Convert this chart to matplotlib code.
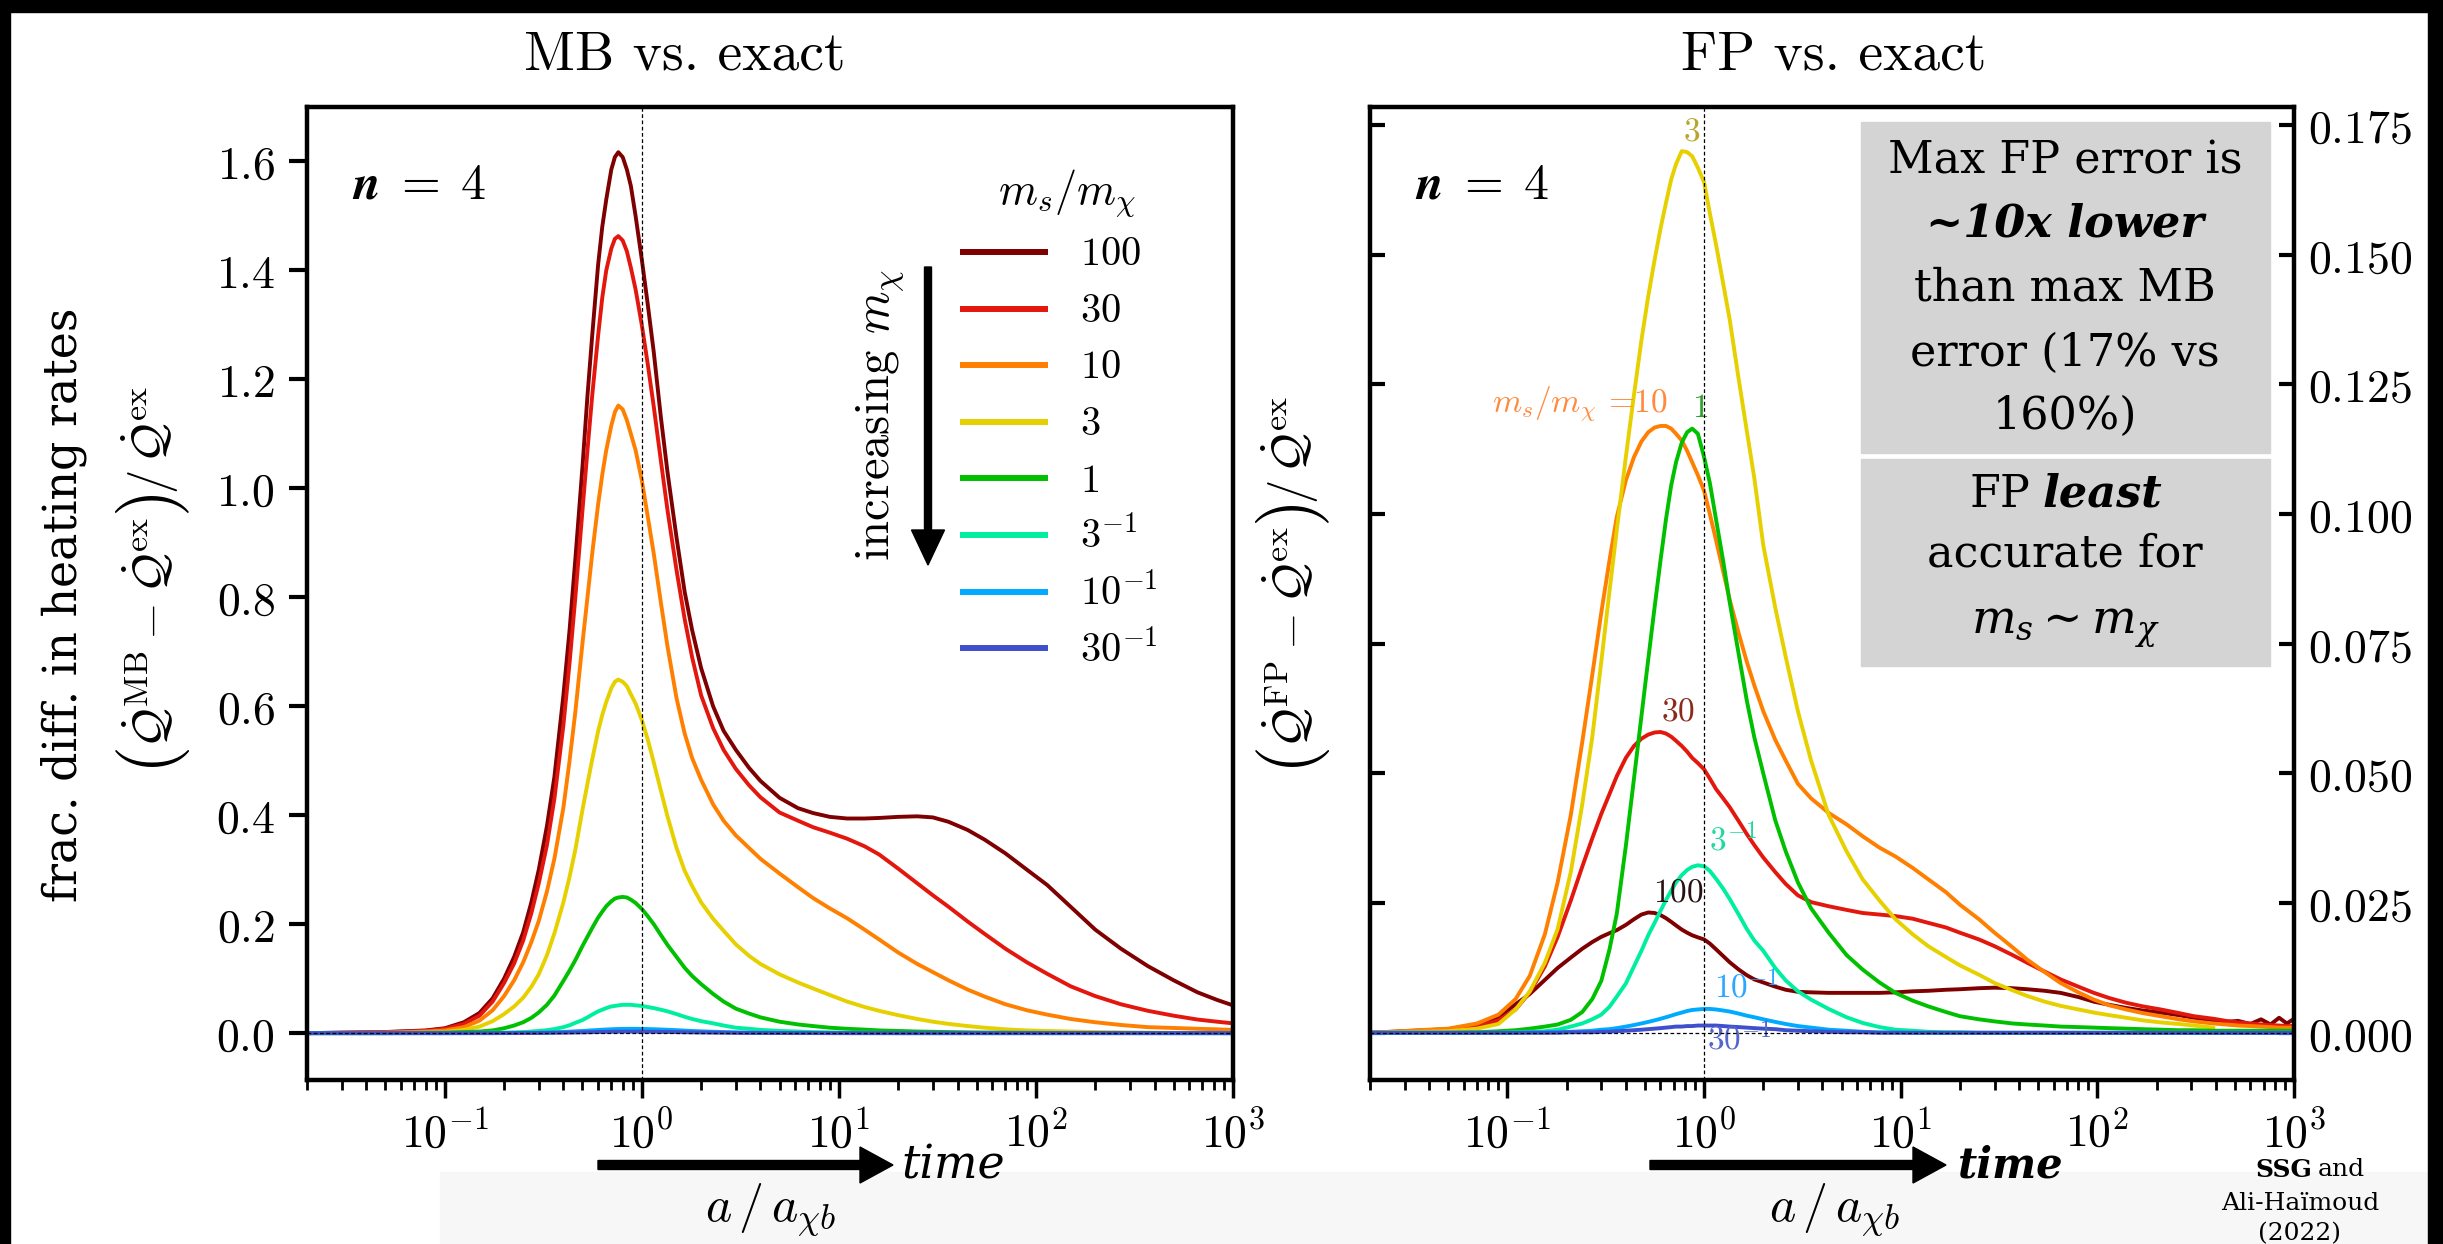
import numpy as np
import matplotlib
matplotlib.use('Agg')
import matplotlib.pyplot as plt
from matplotlib.patches import Rectangle, FancyArrow
from matplotlib.ticker import FixedLocator, FixedFormatter, LogLocator, NullFormatter
from matplotlib.mathtext import MathTextParser

plt.rcParams['mathtext.fontset'] = 'cm'
plt.rcParams['font.family'] = ['DejaVu Serif']
plt.rcParams['axes.formatter.use_mathtext'] = True

# ---------------- data ----------------
ratio_labels = ['100', '30', '10', '3', '1', r'$3^{-1}$', r'$10^{-1}$', r'$30^{-1}$']
colors = ['#7f0000', '#e3170d', '#ff7f00', '#e6d000', '#00c000', '#00eea0', '#00aaff', '#4050cc']

x_mb = [0.02, 0.05, 0.08, 0.1, 0.125, 0.15, 0.175, 0.2, 0.225, 0.25,
        0.275, 0.3, 0.33, 0.36, 0.4, 0.43, 0.46, 0.5, 0.53, 0.56,
        0.6, 0.63, 0.66, 0.7, 0.73, 0.76, 0.8, 0.84, 0.88, 0.93,
        1.0, 1.07, 1.15, 1.25, 1.35, 1.5, 1.65, 1.8, 2.0, 2.3,
        2.6, 3.0, 3.5, 4.0, 5.0, 6.2, 7.4, 9, 11, 13.5,
        16, 20, 25, 30, 36, 45, 55, 70, 90, 114,
        150, 200, 270, 370, 500, 660, 830, 1000]
mb_100 = [0.0, 0.002, 0.005, 0.009, 0.02, 0.037, 0.064, 0.10, 0.14, 0.185,
          0.24, 0.30, 0.38, 0.47, 0.62, 0.74, 0.87, 1.04, 1.17, 1.28,
          1.41, 1.48, 1.53, 1.585, 1.608, 1.617, 1.608, 1.585, 1.555, 1.50,
          1.42, 1.34, 1.25, 1.13, 1.03, 0.91, 0.81, 0.74, 0.67, 0.60,
          0.555, 0.52, 0.487, 0.463, 0.432, 0.413, 0.404, 0.397, 0.394, 0.394,
          0.395, 0.397, 0.398, 0.396, 0.388, 0.373, 0.355, 0.330, 0.300, 0.272,
          0.232, 0.19, 0.155, 0.123, 0.097, 0.075, 0.061, 0.051]
mb_30 = [0.0, 0.002, 0.004, 0.008, 0.017, 0.032, 0.058, 0.092, 0.128, 0.17,
         0.22, 0.275, 0.345, 0.43, 0.565, 0.68, 0.80, 0.96, 1.07, 1.17,
         1.28, 1.35, 1.40, 1.44, 1.458, 1.463, 1.455, 1.435, 1.405, 1.365,
         1.30, 1.23, 1.15, 1.05, 0.96, 0.85, 0.76, 0.69, 0.62, 0.56,
         0.52, 0.485, 0.455, 0.433, 0.405, 0.39, 0.378, 0.368, 0.357, 0.343,
         0.328, 0.302, 0.275, 0.253, 0.232, 0.205, 0.182, 0.155, 0.13, 0.109,
         0.086, 0.068, 0.053, 0.041, 0.032, 0.025, 0.021, 0.018]
mb_10 = [0.0, 0.001, 0.003, 0.005, 0.011, 0.023, 0.042, 0.068, 0.097, 0.13,
         0.167, 0.206, 0.26, 0.32, 0.414, 0.50, 0.59, 0.716, 0.80, 0.88,
         0.97, 1.025, 1.07, 1.115, 1.14, 1.152, 1.145, 1.125, 1.10, 1.07,
         1.015, 0.95, 0.88, 0.79, 0.71, 0.615, 0.55, 0.505, 0.465, 0.42,
         0.39, 0.363, 0.34, 0.32, 0.293, 0.268, 0.248, 0.229, 0.211, 0.19,
         0.172, 0.148, 0.127, 0.112, 0.097, 0.08, 0.067, 0.053, 0.042, 0.034,
         0.026, 0.02, 0.015, 0.011, 0.0095, 0.008, 0.007, 0.006]
mb_3 = [0.0, 0.0, 0.001, 0.002, 0.006, 0.012, 0.022, 0.035, 0.049, 0.065,
        0.085, 0.108, 0.143, 0.183, 0.24, 0.287, 0.337, 0.41, 0.458, 0.502,
        0.554, 0.584, 0.608, 0.633, 0.645, 0.649, 0.645, 0.637, 0.622, 0.605,
        0.575, 0.54, 0.497, 0.445, 0.398, 0.34, 0.298, 0.27, 0.24, 0.21,
        0.188, 0.163, 0.142, 0.127, 0.108, 0.093, 0.082, 0.07, 0.058, 0.048,
        0.041, 0.033, 0.026, 0.021, 0.017, 0.013, 0.010, 0.007, 0.005, 0.004,
        0.003, 0.002, 0.0015, 0.001, 0.0007, 0.0005, 0.0003, 0.0002]
mb_1 = [0.0, 0.0, 0.0005, 0.001, 0.002, 0.003, 0.005, 0.009, 0.014, 0.02,
        0.028, 0.038, 0.052, 0.069, 0.096, 0.115, 0.134, 0.16, 0.177, 0.193,
        0.212, 0.223, 0.233, 0.242, 0.247, 0.249, 0.25, 0.249, 0.245, 0.239,
        0.228, 0.215, 0.20, 0.18, 0.162, 0.14, 0.12, 0.105, 0.09, 0.072,
        0.058, 0.045, 0.036, 0.029, 0.021, 0.016, 0.013, 0.01, 0.008, 0.0065,
        0.005, 0.004, 0.003, 0.0025, 0.002, 0.0015, 0.0012, 0.001, 0.0007, 0.0005,
        0.0004, 0.0003, 0.0002, 0.0002, 0.0001, 0.0001, 0.0001, 0.0]
mb_1_3 = [0.0, 0.0, 0.0, 0.0, 0.0003, 0.0005, 0.0008, 0.001, 0.0015, 0.002,
          0.003, 0.004, 0.0055, 0.0075, 0.011, 0.0145, 0.019, 0.024, 0.029, 0.034,
          0.04, 0.043, 0.046, 0.049, 0.05, 0.051, 0.052, 0.052, 0.052, 0.051,
          0.05, 0.048, 0.046, 0.043, 0.04, 0.035, 0.03, 0.026, 0.022, 0.018,
          0.014, 0.01, 0.008, 0.006, 0.004, 0.003, 0.002, 0.0015, 0.001, 0.0007,
          0.0005] + [0.0] * 17
mb_1_10 = [0.0, 0.0, 0.0, 0.0, 0.0, 0.0001, 0.0001, 0.0002, 0.0003, 0.0005,
           0.0007, 0.001, 0.0013, 0.0017, 0.0022, 0.0028, 0.0034, 0.004, 0.0046, 0.0052,
           0.0058, 0.0063, 0.0067, 0.0071, 0.0074, 0.0076, 0.0078, 0.0079, 0.008, 0.0079,
           0.0078, 0.0075, 0.0072, 0.0067, 0.0062, 0.0055, 0.0047, 0.004, 0.0033, 0.0026,
           0.002, 0.0015, 0.0011, 0.0009, 0.0006, 0.0004, 0.0003, 0.0002, 0.0001] + [0.0] * 19
mb_1_30 = [0.0, 0.0, 0.0, 0.0, 0.0, 0.0, 0.0, 0.0001, 0.0001, 0.0002,
           0.0002, 0.0003, 0.0005, 0.0006, 0.0008, 0.001, 0.0012, 0.0014, 0.0016, 0.0018,
           0.002, 0.0022, 0.0023, 0.0025, 0.0026, 0.0027, 0.0027, 0.0028, 0.0028, 0.0028,
           0.0027, 0.0026, 0.0025, 0.0023, 0.0022, 0.0019, 0.0016, 0.0014, 0.0012, 0.0009,
           0.0007, 0.0005, 0.0004, 0.0003, 0.0002, 0.0001, 0.0001] + [0.0] * 21

x_fp = [0.02, 0.05, 0.07, 0.09, 0.11, 0.13, 0.155, 0.18, 0.21, 0.24,
        0.27, 0.3, 0.33, 0.36, 0.4, 0.44, 0.48, 0.52, 0.56, 0.6,
        0.64, 0.68, 0.72, 0.77, 0.82, 0.87, 0.93, 1.0, 1.07, 1.15,
        1.25, 1.35, 1.5, 1.65, 1.8, 2.0, 2.3, 2.6, 3.0, 3.5,
        4.3, 5.3, 6.4, 7.8, 9.4, 11.5, 13.8, 17, 20, 25,
        30, 37, 44, 54, 65, 80, 96, 115, 140, 170,
        210, 260, 310, 390, 450, 520, 600, 680, 760, 840, 920, 1000]
nan = float('nan')
fp_100 = [0.0, 0.0007, 0.0016, 0.0031, 0.0055, 0.0075, 0.0102, 0.0125, 0.0145, 0.0162,
          0.0175, 0.0185, 0.0192, 0.0198, 0.0208, 0.0219, 0.0228, 0.0232, 0.0231, 0.0227,
          0.0221, 0.0214, 0.0207, 0.0199, 0.0193, 0.0188, 0.0184, 0.018, 0.0172, 0.0161,
          0.0148, 0.0136, 0.0122, 0.0111, 0.0103, 0.0097, 0.0089, 0.0083, 0.0079, 0.0078,
          0.0077, 0.0077, 0.0077, 0.0077, 0.0078, 0.008, 0.0081, 0.0083, 0.0084, 0.0086,
          0.0087, 0.0086, 0.0084, 0.0081, 0.0077, 0.0069, 0.006, 0.0054, 0.0048, 0.0043,
          0.0039, 0.0034, 0.0029, 0.0024, 0.0021, 0.0023, 0.0017, 0.0026, 0.0016, 0.0029,
          0.0018, 0.0027]
fp_30 = [0.0, 0.0005, 0.0012, 0.0024, 0.0045, 0.0078, 0.0128, 0.0185, 0.0255, 0.032,
         0.0375, 0.0422, 0.046, 0.0495, 0.053, 0.0553, 0.0567, 0.0575, 0.0579, 0.058,
         0.0577, 0.0571, 0.0563, 0.0553, 0.0542, 0.053, 0.052, 0.0508, 0.049, 0.047,
         0.0452, 0.0435, 0.0408, 0.0383, 0.0362, 0.0338, 0.031, 0.0287, 0.0265, 0.0252,
         0.0244, 0.0237, 0.0231, 0.0228, 0.0225, 0.022, 0.0212, 0.0203, 0.0193, 0.018,
         0.0167, 0.015, 0.0135, 0.0118, 0.0103, 0.0089, 0.0077, 0.0067, 0.0058, 0.0051,
         0.0045, 0.0038, 0.0032, 0.0027, 0.0023, 0.002, 0.0018, 0.0016, 0.0015, 0.0014,
         0.0013, 0.0013]
fp_10 = [0.0, 0.0008, 0.0018, 0.0035, 0.0065, 0.011, 0.019, 0.029, 0.042, 0.056,
         0.069, 0.081, 0.091, 0.0995, 0.1065, 0.111, 0.114, 0.1158, 0.1167, 0.117,
         0.117, 0.1165, 0.1155, 0.1142, 0.1122, 0.110, 0.1075, 0.1045, 0.100, 0.095,
         0.089, 0.0835, 0.077, 0.0715, 0.067, 0.062, 0.0565, 0.0525, 0.048, 0.0452,
         0.0424, 0.0402, 0.0379, 0.0357, 0.034, 0.0318, 0.0296, 0.0271, 0.0247, 0.0219,
         0.0193, 0.0165, 0.0141, 0.0117, 0.0096, 0.0078, 0.0064, 0.0053, 0.0045, 0.0038,
         0.0032, 0.0026, 0.0022, 0.0018, 0.0016, 0.0014, 0.0013, 0.0012, 0.0011, 0.001,
         0.001, 0.001]
fp_3 = [0.0, 0.0003, 0.0008, 0.0017, 0.0045, 0.008, 0.0135, 0.02, 0.031, 0.044,
        0.057, 0.0715, 0.085, 0.097, 0.111, 0.123, 0.1335, 0.142, 0.149, 0.155,
        0.16, 0.1645, 0.1675, 0.170, 0.1698, 0.169, 0.1668, 0.164, 0.158, 0.152,
        0.1445, 0.1375, 0.126, 0.116, 0.107, 0.094, 0.082, 0.0725, 0.062, 0.0525,
        0.042, 0.035, 0.0296, 0.0255, 0.0219, 0.019, 0.0167, 0.0146, 0.013, 0.0112,
        0.0096, 0.0082, 0.0071, 0.006, 0.0052, 0.0045, 0.0039, 0.0034, 0.0029, 0.0024,
        0.002, 0.0017, 0.0014, 0.001, nan, nan, nan, nan, nan, nan,
        nan, nan]
fp_1 = [0.0, 0.0, 0.0001, 0.0003, 0.0005, 0.0008, 0.0012, 0.0016, 0.0025, 0.004,
        0.0065, 0.010, 0.016, 0.023, 0.036, 0.049, 0.061, 0.072, 0.082, 0.091,
        0.099, 0.1055, 0.110, 0.1138, 0.1158, 0.1165, 0.1155, 0.111, 0.106, 0.099,
        0.091, 0.083, 0.073, 0.064, 0.057, 0.050, 0.041, 0.035, 0.029, 0.024,
        0.0193, 0.015, 0.0122, 0.0097, 0.0077, 0.0062, 0.0051, 0.004, 0.0032, 0.0026,
        0.0022, 0.0018, 0.0016, 0.0014, 0.0012, 0.0011, 0.001, 0.0009, 0.0008, 0.0007,
        0.0006, 0.0005, 0.0005, 0.0004, 0.0004, 0.0004, 0.0004, 0.0004, 0.0004, 0.0004,
        0.0004, 0.0004]
fp_1_3 = [0.0, 0.0, 0.0, 0.0, 0.0001, 0.0002, 0.0003, 0.0006, 0.0012, 0.0018,
          0.0026, 0.0035, 0.005, 0.007, 0.0095, 0.0128, 0.0158, 0.0188, 0.0212, 0.0235,
          0.0256, 0.0274, 0.029, 0.0304, 0.0314, 0.032, 0.0323, 0.0321, 0.0312, 0.0297,
          0.0278, 0.0258, 0.0228, 0.020, 0.0178, 0.0158, 0.0125, 0.0101, 0.008, 0.0064,
          0.0046, 0.003, 0.0019, 0.0011, 0.0006, 0.0004, 0.0002, 0.0001, 0.0001] + [0.0] * 23
fp_1_10 = [0.0, 0.0, 0.0, 0.0, 0.0, 0.0001, 0.0001, 0.0002, 0.0002, 0.0003,
           0.0004, 0.0006, 0.0007, 0.0009, 0.0012, 0.0015, 0.0018, 0.0021, 0.0024, 0.0027,
           0.003, 0.0033, 0.0036, 0.0039, 0.0042, 0.0044, 0.0045, 0.0046, 0.0046, 0.0045,
           0.0043, 0.0041, 0.0037, 0.0033, 0.003, 0.0026, 0.0021, 0.0017, 0.0013, 0.001,
           0.0006, 0.0004, 0.0002, 0.0001, 0.0001] + [0.0] * 27
fp_1_30 = [0.0, 0.0, 0.0, 0.0, 0.0, 0.0, 0.0, 0.0, 0.0001, 0.0001,
           0.0001, 0.0002, 0.0002, 0.0003, 0.0004, 0.0005, 0.0006, 0.0007, 0.0008, 0.0009,
           0.001, 0.0011, 0.0012, 0.0012, 0.0013, 0.0013, 0.0014, 0.0014, 0.0014, 0.0014,
           0.0013, 0.0012, 0.0011, 0.001, 0.0009, 0.0008, 0.0007, 0.0005, 0.0004, 0.0003,
           0.0002, 0.0001, 0.0001] + [0.0] * 29

mb_series = [mb_100, mb_30, mb_10, mb_3, mb_1, mb_1_3, mb_1_10, mb_1_30]
fp_series = [fp_100, fp_30, fp_10, fp_3, fp_1, fp_1_3, fp_1_10, fp_1_30]

x_ticks = [0.1, 1, 10, 100, 1000]
x_ticklabels = [r'$10^{-1}$', r'$10^{0}$', r'$10^{1}$', r'$10^{2}$', r'$10^{3}$']
mb_yticks = [0.0, 0.2, 0.4, 0.6, 0.8, 1.0, 1.2, 1.4, 1.6]
mb_yticklabels = [r'$0.0$', r'$0.2$', r'$0.4$', r'$0.6$', r'$0.8$', r'$1.0$', r'$1.2$', r'$1.4$', r'$1.6$']
fp_yticks = [0.0, 0.025, 0.05, 0.075, 0.1, 0.125, 0.15, 0.175]
fp_yticklabels = [r'$0.000$', r'$0.025$', r'$0.050$', r'$0.075$', r'$0.100$', r'$0.125$',
                  r'$0.150$', r'$0.175$']

# FP curve annotations: (text, x, y, color)
fp_annotations = [
    (r'$3$', 0.866, 0.1737, '#b8a52a'),
    (r'$1$', 0.954, 0.1205, '#2ca02c'),
    (r'$30$', 0.738, 0.0620, '#8b2a1a'),
    (r'$3^{-1}$', 1.40, 0.0372, '#1fd9a0'),
    (r'$100$', 0.738, 0.0271, '#2b1010'),
    (r'$10^{-1}$', 1.65, 0.0088, '#2aa8ff'),
    (r'$30^{-1}$', 1.52, -0.0012, '#5566cc'),
]

# ---------------- figure ----------------
W, H = 2443, 1244
fig = plt.figure(figsize=(W / 100, H / 100), dpi=100)
fig.patch.set_facecolor('white')


def fx(px):
    return px / W


def fy(py):
    return 1 - py / H


def mathtext_ok(s):
    try:
        MathTextParser('path').parse(s)
        return True
    except Exception:
        return False


# faint grey slide background at the bottom
fig.add_artist(Rectangle((fx(440), 0), 1 - fx(440), 72 / H, transform=fig.transFigure,
                         color='#f7f7f7', zorder=-5))

ax1 = fig.add_axes([fx(307), fy(1080), (1233 - 307) / W, (1080 - 107) / H])
ax2 = fig.add_axes([fx(1370), fy(1080), (2294 - 1370) / W, (1080 - 107) / H])

for ax, xs, series in [(ax1, x_mb, mb_series), (ax2, x_fp, fp_series)]:
    for ys, c in zip(series, colors):
        ax.plot(xs, ys, color=c, lw=2.8, solid_capstyle='round', solid_joinstyle='round')
    ax.set_xscale('log')
    ax.set_xlim(0.02, 1000)
    ax.axvline(1.0, color='k', ls='--', lw=0.9, dashes=(3, 2), zorder=5)
    ax.axhline(0.0, color='k', ls='--', lw=0.9, dashes=(3, 2), zorder=5)
    ax.xaxis.set_major_locator(FixedLocator(x_ticks))
    ax.xaxis.set_major_formatter(FixedFormatter(x_ticklabels))
    ax.xaxis.set_minor_locator(LogLocator(base=10, subs=np.arange(2, 10), numticks=100))
    ax.xaxis.set_minor_formatter(NullFormatter())
    ax.tick_params(axis='x', which='major', direction='out', length=13, width=2.5, pad=10,
                   labelsize=33)
    ax.tick_params(axis='x', which='minor', direction='out', length=7, width=2)
    for sp in ax.spines.values():
        sp.set_linewidth(3.2)

ax1.set_ylim(-0.086, 1.70)
ax1.yaxis.set_major_locator(FixedLocator(mb_yticks))
ax1.yaxis.set_major_formatter(FixedFormatter(mb_yticklabels))
ax1.tick_params(axis='y', direction='out', length=13, width=3, pad=10, labelsize=33)

ax2.set_ylim(-0.0091, 0.1785)
ax2.yaxis.set_major_locator(FixedLocator(fp_yticks))
ax2.yaxis.set_major_formatter(FixedFormatter(fp_yticklabels))
ax2.tick_params(axis='y', direction='in', length=11, width=3, pad=10, labelsize=33,
                left=True, right=True, labelleft=False, labelright=True)

# n = 4 labels
nlab = r'$\boldsymbol{n}\;\boldsymbol{=}\;\boldsymbol{4}$'
if not mathtext_ok(nlab):
    nlab = r'$n\;=\;4$'
for ax in (ax1, ax2):
    ax.text(0.049, 0.92, nlab, transform=ax.transAxes, fontsize=36, ha='left', va='center')

# manual legend in MB panel
leg_x0, leg_x1, leg_tx = 0.7052, 0.8002, 0.8348
row0, drow = 0.851, 0.0582
ax1.text(0.8207, 0.9116, r'$m_s/m_\chi$', transform=ax1.transAxes, fontsize=32,
         ha='center', va='center')
for i, (lab, c) in enumerate(zip(ratio_labels, colors)):
    yy = row0 - i * drow
    ax1.plot([leg_x0, leg_x1], [yy, yy], color=c, lw=4.3, transform=ax1.transAxes,
             solid_capstyle='butt')
    txt = lab if lab.startswith('$') else '$' + lab + '$'
    ax1.text(leg_tx, yy - 0.0135, txt, transform=ax1.transAxes, fontsize=29,
             ha='left', va='baseline')

ax1.text(0.6188, 0.6835, r'increasing $m_\chi$', transform=ax1.transAxes, rotation=90,
         fontsize=35, ha='center', va='center', family='cmr10')
fig.add_artist(FancyArrow(fx(928), fy(267), 0, fy(565) - fy(267), width=7 / W,
                          head_width=33 / W, head_length=35 / H, length_includes_head=True,
                          transform=fig.transFigure, color='k', zorder=6))

# FP curve labels
ax2.text(0.655, 0.1214, r'$m_s/m_\chi$ =10', color='#ff8a3d', fontsize=24, ha='right',
         va='center', family='cmr10')
for t, xx, yy, c in fp_annotations:
    ax2.text(xx, yy, t, color=c, fontsize=24, ha='center', va='center')

# titles
fig.text(fx(685), fy(70), 'MB vs. exact', family='cmr10', fontsize=40, ha='center',
         va='baseline')
fig.text(fx(1834), fy(70), 'FP vs. exact', family='cmr10', fontsize=40, ha='center',
         va='baseline')


# y labels: rotated pieces stacked bottom-to-top, with large parentheses
def stacked_vertical_label(xpx, ypx_center, pieces):
    renderer = fig.canvas.get_renderer()
    items = []
    for s, fs, dx in pieces:
        t = fig.text(fx(xpx + dx), 0.5, s, rotation=90, fontsize=fs, ha='center', va='center')
        h = t.get_window_extent(renderer).height
        items.append((t, h))
    total = sum(h for _, h in items)
    y = (H - ypx_center) - total / 2.0
    for t, h in items:
        t.set_y((y + h / 2.0) / H)
        y += h


for tag, xpx, ypx in [('MB', 150, 580), ('FP', 1290, 585)]:
    stacked_vertical_label(xpx, ypx, [
        (r'$($', 52, 3),
        (r'$\dot{\mathcal{Q}}^{\mathrm{' + tag + r'}}-\dot{\mathcal{Q}}^{\mathrm{ex}}$', 35, 0),
        (r'$)$', 52, 3),
        (r'$/\,\dot{\mathcal{Q}}^{\mathrm{ex}}$', 35, 0),
    ])

fig.text(fx(64), fy(605), 'frac. diff. in heating rates', rotation=90, fontsize=33,
         ha='center', va='center')

# x labels
fig.text(fx(770), fy(1210), r'$a\,/\,a_{\chi b}$', fontsize=36, ha='center', va='center')
fig.text(fx(1834), fy(1210), r'$a\,/\,a_{\chi b}$', fontsize=36, ha='center', va='center')

# time arrows
for x0, x1, tx, weight, fs in [(598, 893, 901, 'normal', 33), (1650, 1946, 1958, 'bold', 30)]:
    fig.add_artist(FancyArrow(fx(x0), fy(1165), fx(x1) - fx(x0), 0, width=9 / H,
                              head_width=36 / H, head_length=33 / W, length_includes_head=True,
                              transform=fig.transFigure, color='k'))
    fig.text(fx(tx), fy(1166), 'time', fontsize=fs, style='italic', weight=weight,
             ha='left', va='center')

# grey text boxes
fig.add_artist(Rectangle((fx(1861), fy(453)), (2270 - 1861) / W, (453 - 122) / H,
                         transform=fig.transFigure, color='#d4d4d4', zorder=3))
fig.add_artist(Rectangle((fx(1861), fy(666)), (2270 - 1861) / W, (666 - 459) / H,
                         transform=fig.transFigure, color='#d4d4d4', zorder=3))
cx = fx(2065)
box_lines = [('Max FP error is', 161, 'normal', 'normal'),
             ('~10x lower', 224, 'italic', 'bold'),
             ('than max MB', 288, 'normal', 'normal'),
             ('error (17% vs', 353, 'normal', 'normal'),
             ('160%)', 416, 'normal', 'normal')]
for t, py, st, wt in box_lines:
    fig.text(cx, fy(py), t, fontsize=32, style=st, weight=wt, ha='center', va='center',
             zorder=4)
fig.text(fx(2030), fy(494), 'FP', fontsize=32, ha='right', va='center', zorder=4)
fig.text(fx(2042), fy(494), 'least', fontsize=32, style='italic', weight='bold', ha='left',
         va='center', zorder=4)
fig.text(cx, fy(554), 'accurate for', fontsize=32, ha='center', va='center', zorder=4)
fig.text(cx, fy(626), r'$m_s \sim m_\chi$', fontsize=34, ha='center', va='center', zorder=4,
         math_fontfamily='dejavuserif')

# citation
fig.text(fx(2312), fy(1170), 'SSG', fontsize=18, weight='bold', ha='right', va='center')
fig.text(fx(2318), fy(1170), 'and', fontsize=18, ha='left', va='center')
fig.text(fx(2300), fy(1203), 'Ali-Haïmoud', fontsize=18, ha='center', va='center')
fig.text(fx(2300), fy(1234), '(2022)', fontsize=18, ha='center', va='center')

# black slide borders
for (x0, y0, w, h) in [(0, fy(12), 1, 12 / H), (0, 0, 10 / W, 1), (fx(2428), 0, 15 / W, 1)]:
    fig.add_artist(Rectangle((x0, y0), w, h, transform=fig.transFigure, color='k', zorder=20))

fig.savefig('out.png', dpi=100)
